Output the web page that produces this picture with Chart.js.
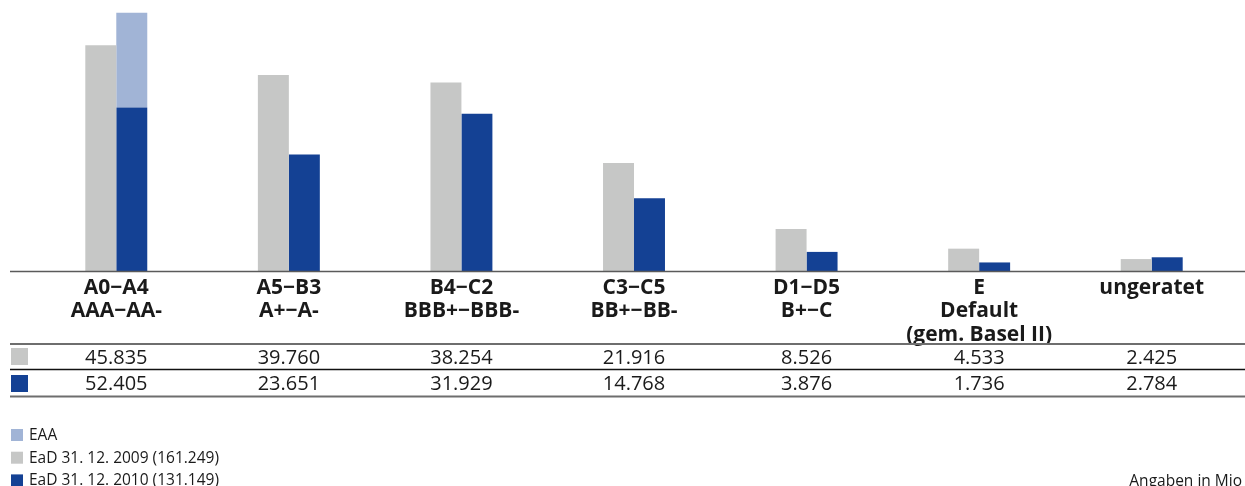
<!DOCTYPE html>
<html>
<head>
<meta charset="utf-8">
<script src="https://cdn.jsdelivr.net/npm/chart.js@4.4.1/dist/chart.umd.min.js"></script>
<style>
  html, body { margin: 0; padding: 0; background: #ffffff; }
  #wrap { position: relative; width: 1245px; height: 486px; }
</style>
</head>
<body>
<div id="wrap"><canvas id="c" width="1245" height="486"></canvas></div>
<script>
// ---- data ----
const categories = [
  ["A0−A4", "AAA−AA-"],
  ["A5−B3", "A+−A-"],
  ["B4−C2", "BBB+−BBB-"],
  ["C3−C5", "BB+−BB-"],
  ["D1−D5", "B+−C"],
  ["E", "Default", "(gem. Basel II)"],
  ["ungeratet"]
];
const ead2009 = [45.835, 39.760, 38.254, 21.916, 8.526, 4.533, 2.425];
const ead2010 = [52.405, 23.651, 31.929, 14.768, 3.876, 1.736, 2.784];
const eaa = [19.2, null, null, null, null, null, null];   // EAA share inside the 2010 bar
const ead2009Labels = ["45.835", "39.760", "38.254", "21.916", "8.526", "4.533", "2.425"];
const ead2010Labels = ["52.405", "23.651", "31.929", "14.768", "3.876", "1.736", "2.784"];
const legendLabels = ["EAA", "EaD 31. 12. 2009 (161.249)", "EaD 31. 12. 2010 (131.149)"];
const unitNote = "Angaben in Mio";

const GREY = "#c6c7c6", BLUE = "#144194", LIGHT = "#a1b4d6";
const FONT = "'Open Sans', 'Noto Sans', sans-serif";

const ead2010Base = ead2010.map((v, i) => v - (eaa[i] || 0));

const overlay = {
  id: "overlay",
  afterDraw(chart) {
    const ctx = chart.ctx;
    const xs = chart.scales.x;
    const W = chart.width;
    ctx.save();
    // baseline
    ctx.strokeStyle = "#5a5a5a";
    ctx.lineWidth = 1.5;
    ctx.beginPath(); ctx.moveTo(10, 271.5); ctx.lineTo(W, 271.5); ctx.stroke();

    // category labels
    ctx.fillStyle = "#1a1a1a";
    ctx.textAlign = "center";
    ctx.textBaseline = "alphabetic";
    ctx.font = "bold 21px " + FONT;
    categories.forEach((lines, i) => {
      const x = xs.getPixelForValue(i);
      lines.forEach((t, j) => ctx.fillText(t, x, 294 + j * 23.3));
    });

    // table lines
    ctx.strokeStyle = "#6e6e6e";
    ctx.lineWidth = 2;
    ctx.beginPath(); ctx.moveTo(10, 344); ctx.lineTo(W, 344); ctx.stroke();
    ctx.beginPath(); ctx.moveTo(10, 396.5); ctx.lineTo(W, 396.5); ctx.stroke();
    ctx.strokeStyle = "#111111";
    ctx.lineWidth = 1.3;
    ctx.beginPath(); ctx.moveTo(10, 369.5); ctx.lineTo(W, 369.5); ctx.stroke();

    // table swatches
    ctx.fillStyle = GREY; ctx.fillRect(11, 348, 17, 17);
    ctx.fillStyle = BLUE; ctx.fillRect(11, 375, 17, 17);

    // table values
    ctx.fillStyle = "#1a1a1a";
    ctx.font = "20px " + FONT;
    ead2009Labels.forEach((t, i) => ctx.fillText(t, xs.getPixelForValue(i), 364));
    ead2010Labels.forEach((t, i) => ctx.fillText(t, xs.getPixelForValue(i), 390));

    // legend
    const legColors = [LIGHT, GREY, BLUE];
    ctx.textAlign = "left";
    ctx.font = "15.5px " + FONT;
    legendLabels.forEach((t, i) => {
      const base = 440 + i * 22.7;
      ctx.fillStyle = legColors[i];
      ctx.fillRect(11, base - 11, 12, 12);
      ctx.fillStyle = "#1a1a1a";
      ctx.fillText(t, 29, base);
    });
    ctx.textAlign = "right";
    ctx.fillText(unitNote, 1242, 485.5);
    ctx.restore();
  }
};

new Chart(document.getElementById("c"), {
  type: "bar",
  data: {
    labels: categories,
    datasets: [
      { label: legendLabels[1], data: ead2009, backgroundColor: GREY, stack: "s2009" },
      { label: legendLabels[2], data: ead2010Base, backgroundColor: BLUE, stack: "s2010" },
      { label: legendLabels[0], data: eaa, backgroundColor: LIGHT, stack: "s2010" }
    ]
  },
  options: {
    responsive: false,
    animation: false,
    devicePixelRatio: 1,
    layout: { padding: { left: 30, right: 7, top: 0, bottom: 215 } },
    datasets: { bar: { categoryPercentage: 0.359, barPercentage: 1.0, borderWidth: 0 } },
    scales: {
      x: { display: false, grid: { display: false } },
      y: { display: false, stacked: true, min: 0, max: 55 }
    },
    plugins: { legend: { display: false }, tooltip: { enabled: false } }
  },
  plugins: [overlay]
});
</script>
</body>
</html>
